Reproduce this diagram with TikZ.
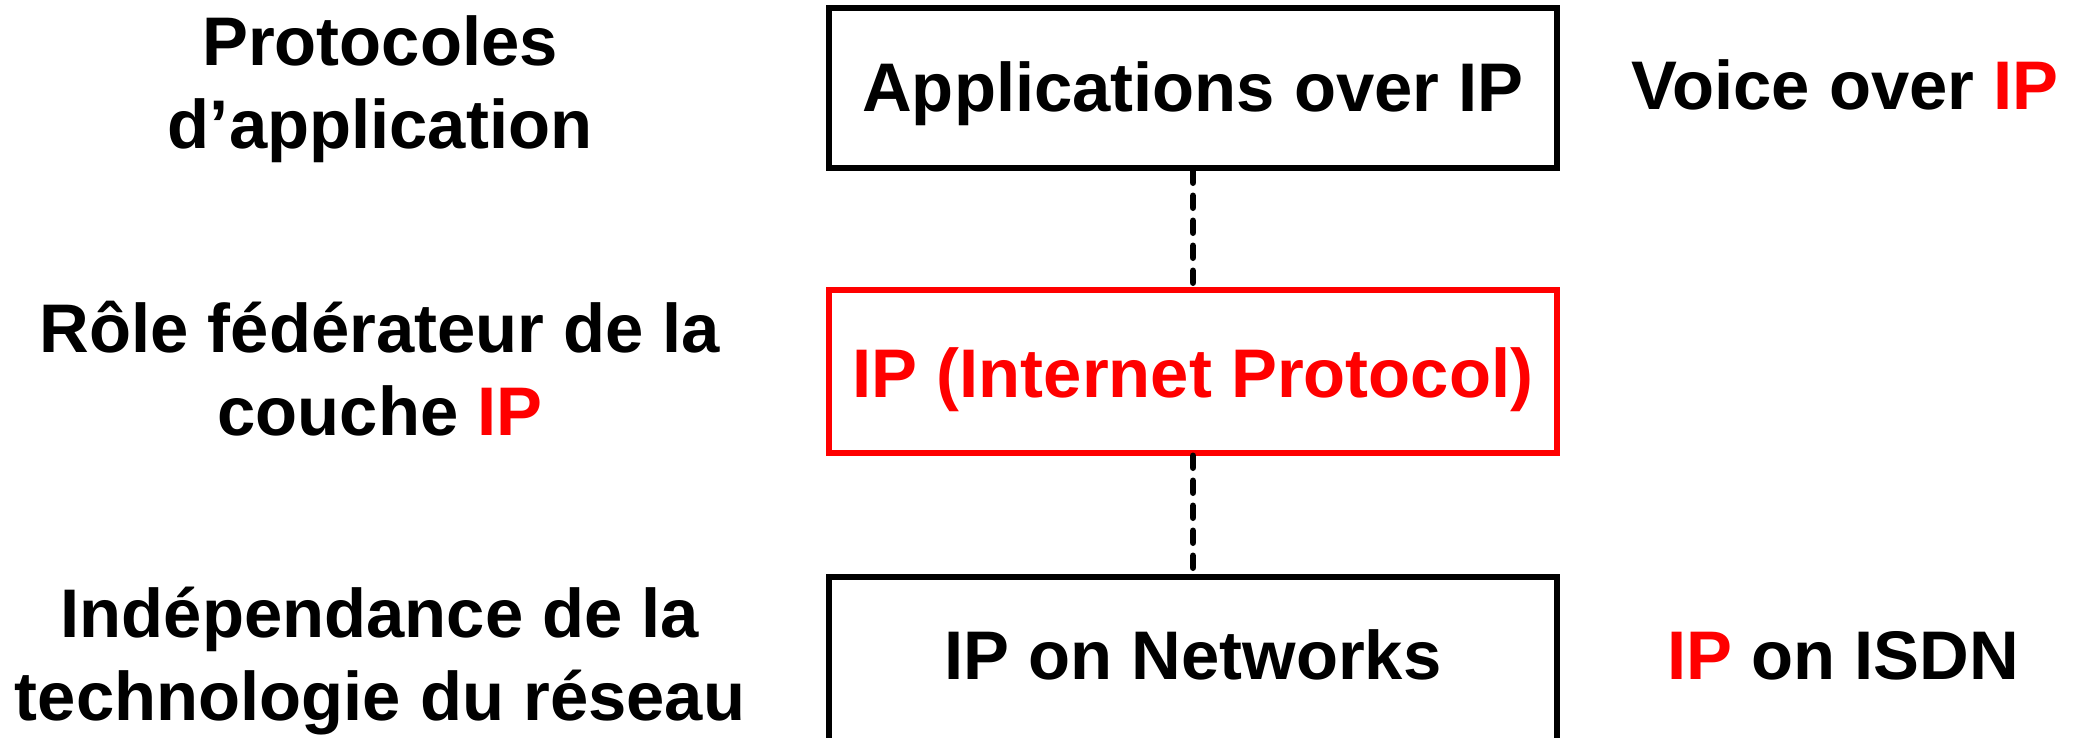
\documentclass[tikz,border=0pt]{standalone}
\usepackage{fontspec}
\setmainfont{Liberation Sans}
\definecolor{ipred}{RGB}{255,0,0}
\begin{document}
\begin{tikzpicture}[x=1pt,y=-1pt,
  layer/.style={draw, line width=5.5pt, minimum width=728pt, inner sep=0pt},
  txt/.style={font=\fontsize{68.8}{83}\selectfont\bfseries, anchor=base, inner sep=0pt},
  stackdash/.style={line width=6.5pt, line cap=round, dash pattern=on 12pt off 13pt}]
\useasboundingbox (0,0) rectangle (2080,737);

% protocol stack
\node[layer, minimum height=160pt] (app) at (1193,88) {};
\node[layer, draw=ipred, minimum height=163pt] (ip) at (1193,371.5) {};
\node[layer, minimum height=168pt] (net) at (1193,661) {};

\node[txt] (appT) at (1193,111) {Applications over IP};
\node[txt, text=ipred] (ipT) at (1193,397) {IP (Internet Protocol)};
\node[txt] (netT) at (1193,679) {IP on Networks};

\draw[stackdash] (app.south) -- (ip.north);
\draw[stackdash] (ip.south) -- (net.north);

% role of each layer
\node[txt] (l1a) at (380,65) {Protocoles};
\node[txt] (l1b) at (380,148) {d’application};
\node[txt] (l2a) at (380,352) {Rôle fédérateur de la};
\node[txt] (l2b) at (380,435) {couche \textcolor{ipred}{IP}};
\node[txt] (l3a) at (380,637) {Indépendance de la};
\node[txt] (l3b) at (380,720) {technologie du réseau};

% examples
\node[txt] (ex1) at (1845,109) {Voice over \textcolor{ipred}{IP}};
\node[txt] (ex2) at (1843,679) {\textcolor{ipred}{IP} on ISDN};
\end{tikzpicture}
\end{document}
